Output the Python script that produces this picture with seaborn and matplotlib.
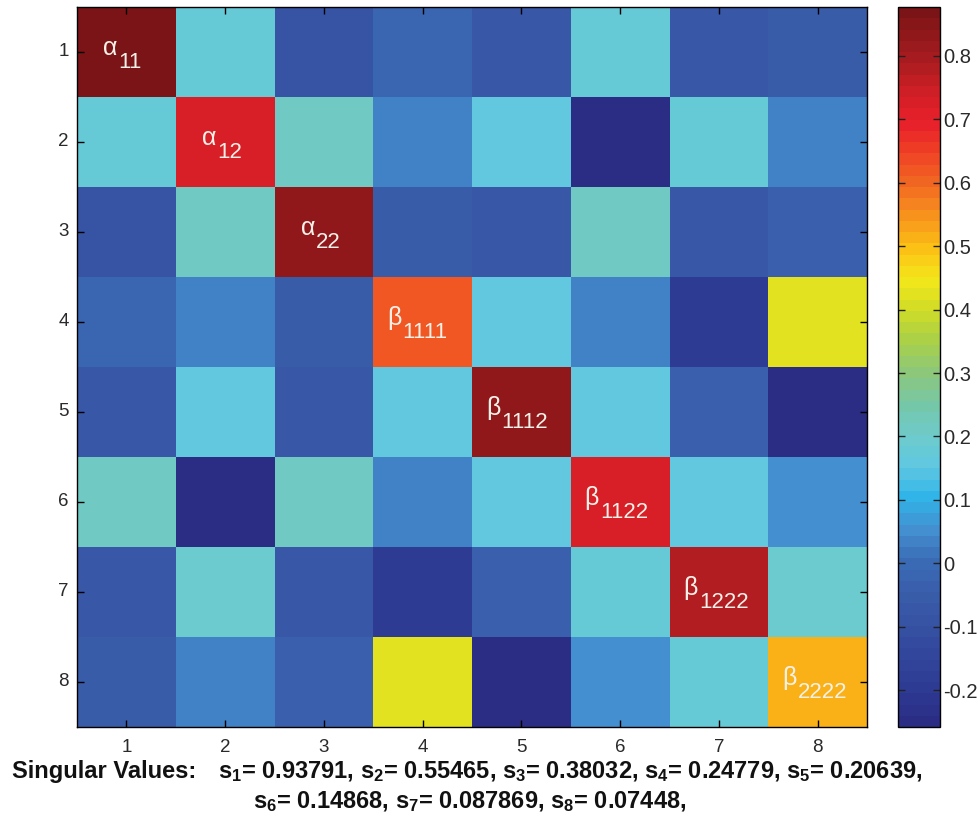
import numpy as np
import pandas as pd
import matplotlib
matplotlib.use("Agg")
import matplotlib.pyplot as plt
import seaborn as sns
from matplotlib.colors import LinearSegmentedColormap

# --- data -------------------------------------------------------------
index_labels = ["1", "2", "3", "4", "5", "6", "7", "8"]

row_1 = [0.87, 0.18, -0.09, -0.02, -0.07, 0.18, -0.07, -0.06]
row_2 = [0.18, 0.72, 0.21, 0.04, 0.15, -0.25, 0.18, 0.04]
row_3 = [-0.09, 0.21, 0.83, -0.06, -0.07, 0.21, -0.07, -0.04]
row_4 = [-0.02, 0.04, -0.06, 0.62, 0.15, 0.04, -0.19, 0.42]
row_5 = [-0.07, 0.15, -0.07, 0.15, 0.83, 0.15, -0.03, -0.25]
row_6 = [0.21, -0.25, 0.21, 0.04, 0.15, 0.72, 0.16, 0.06]
row_7 = [-0.07, 0.19, -0.07, -0.19, -0.03, 0.17, 0.78, 0.19]
row_8 = [-0.06, 0.04, -0.03, 0.42, -0.25, 0.06, 0.18, 0.52]

diag_symbols = ["α", "α", "α", "β", "β", "β", "β", "β"]
diag_subscripts = ["11", "12", "22", "1111", "1112", "1122", "1222", "2222"]

singular_values = ["0.93791", "0.55465", "0.38032", "0.24779", "0.20639",
                   "0.14868", "0.087869", "0.07448"]

cbar_ticks = [-0.2, -0.1, 0.0, 0.1, 0.2, 0.3, 0.4, 0.5, 0.6, 0.7, 0.8]
vmin, vmax = -0.258, 0.877

# --- colour map (printed jet look, 64 steps) ---------------------------
anchor_vals = [-0.258, -0.20, -0.15, -0.10, -0.05, 0.00, 0.05, 0.10, 0.15,
               0.20, 0.25, 0.30, 0.35, 0.40, 0.45, 0.50, 0.55, 0.60, 0.65,
               0.70, 0.75, 0.80, 0.877]
anchor_cols = ["#2b2d84", "#2e3c94", "#32469c", "#3652a3", "#3a5eab",
               "#3a6cb5", "#4490d0", "#2fb4e8", "#5fc8e2", "#6ecbca",
               "#76c7a8", "#8dc77a", "#a8d04a", "#cfdc26", "#f3e81a",
               "#fcc015", "#f7941d", "#f26a22", "#ee4325", "#e8202a",
               "#d01f26", "#a81c20", "#7b1416"]
pos = [(v - vmin) / (vmax - vmin) for v in anchor_vals]
cmap = LinearSegmentedColormap.from_list("printed_jet", list(zip(pos, anchor_cols)), N=64)

# --- figure -----------------------------------------------------------
plt.rcParams["font.family"] = ["Liberation Sans", "DejaVu Sans"]
plt.rcParams["mathtext.fontset"] = "custom"
plt.rcParams["mathtext.rm"] = "Liberation Sans:bold"
plt.rcParams["mathtext.it"] = "Liberation Sans:bold"
plt.rcParams["mathtext.bf"] = "Liberation Sans:bold"
plt.rcParams["mathtext.default"] = "rm"

W, H = 977, 823
fig = plt.figure(figsize=(W / 100, H / 100), dpi=100)
ax = fig.add_axes([77 / W, 1 - 727 / H, 790 / W, 720 / H])
cax = fig.add_axes([898 / W, 1 - 727 / H, 42 / W, 720 / H])

matrix = pd.DataFrame([row_1, row_2, row_3, row_4, row_5, row_6, row_7, row_8],
                      index=index_labels, columns=index_labels)

sns.heatmap(matrix, ax=ax, cbar_ax=cax, cmap=cmap, vmin=vmin, vmax=vmax,
            linewidths=0)

# axes frame and MATLAB-like inward ticks
for sp in ax.spines.values():
    sp.set_visible(True)
    sp.set_color("black")
    sp.set_linewidth(1.0)
ax.tick_params(axis="both", direction="in", length=5, width=1, color="black",
               top=True, right=True, labeltop=False, labelright=False,
               labelsize=13.5, labelcolor="#2a2a2a")
ax.tick_params(axis="x", pad=9)
ax.tick_params(axis="y", pad=6)
ax.set_xticklabels(index_labels, rotation=0)
ax.set_yticklabels(index_labels, rotation=0)
ax.set_xlabel("")
ax.set_ylabel("")

# colour bar
cbar = ax.collections[0].colorbar
cbar.outline.set_visible(True)
cbar.outline.set_edgecolor("black")
cbar.outline.set_linewidth(1.0)
cbar.set_ticks(cbar_ticks)
cbar.set_ticklabels([f"{t:g}" for t in cbar_ticks])
cax.tick_params(direction="in", length=5, width=1, color="#222222",
                left=True, right=True, labelsize=14.5, labelcolor="#2a2a2a", pad=2)

# diagonal parameter labels: symbol followed by a full-size, lowered index
for k, (sym, sub) in enumerate(zip(diag_symbols, diag_subscripts)):
    group_w = 16 + len(sub) * 12.0
    jx = -5 - group_w / 2 + 16
    ax.annotate(sym, xy=(k + 0.5, k + 0.5), xytext=(jx, -3),
                textcoords="offset pixels", ha="right", va="baseline",
                color="#f6f1e8", fontsize=18)
    ax.annotate(sub, xy=(k + 0.5, k + 0.5), xytext=(jx + 1, -16),
                textcoords="offset pixels", ha="left", va="baseline",
                color="#f6f1e8", fontsize=16)

# singular values beneath the matrix
line1 = ", ".join(f"$s_{i + 1}$= {v}" for i, v in enumerate(singular_values[:5])) + ","
line2 = ", ".join(f"$s_{i + 6}$= {v}" for i, v in enumerate(singular_values[5:])) + ","
fig.text(12 / W, 1 - 778 / H, "Singular Values:", fontsize=17,
         fontweight="bold", va="baseline", ha="left", color="#111111")
fig.text(218 / W, 1 - 778 / H, line1, fontsize=17, fontweight="bold",
         va="baseline", ha="left", color="#111111")
fig.text(253 / W, 1 - 808 / H, line2, fontsize=17, fontweight="bold",
         va="baseline", ha="left", color="#111111")

fig.savefig("out.png", dpi=100)
